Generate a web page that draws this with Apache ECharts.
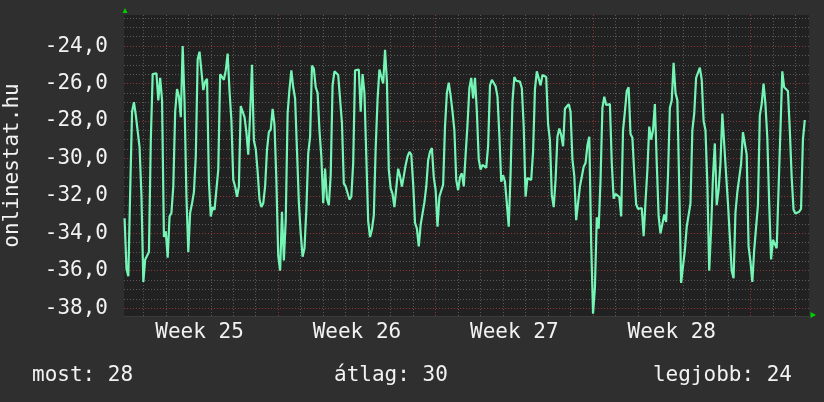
<!DOCTYPE html>
<html>
<head>
<meta charset="utf-8">
<script src="https://cdn.jsdelivr.net/npm/echarts@6/dist/echarts.min.js"></script>
<style>
  html, body { margin: 0; padding: 0; background: #2f2f2f; }
  #chart { width: 824px; height: 402px; }
</style>
</head>
<body>
<div id="chart"></div>
<script>
// hours counted from the start of week 25, one reading every 2 hours
const startHour = 4
const stepHours = 2
const values = [
  -33.2, -35.9, -36.3, -31.7, -27.5, -27.0, -27.7, -27.6, -29.4, -32.0,
  -36.6, -35.4, -35.2, -35.0, -29.0, -25.5, -25.4, -25.45, -26.9, -25.7,
  -26.9, -34.2, -33.9, -35.3, -33.1, -32.9, -31.5, -27.5, -26.3, -26.7,
  -27.8, -24.0, -27.0, -32.0, -35.0, -32.9, -32.4, -31.8, -29.9, -24.7,
  -24.3, -24.3, -26.35, -25.9, -25.75, -31.2, -33.1, -32.6, -32.75, -32.75,
  -30.6, -25.5, -25.4, -25.8, -25.3, -24.4, -26.4, -27.95, -31.15, -31.5,
  -32.05, -31.5, -27.2, -27.1, -27.8, -28.6, -29.8, -27.6, -25.0, -29.05,
  -29.5, -30.7, -32.2, -32.6, -32.4, -31.5, -29.55, -28.6, -28.45, -27.35,
  -28.2, -31.15, -35.2, -36.0, -32.85, -35.45, -33.3, -27.6, -26.3, -25.3,
  -26.2, -26.8, -29.55, -32.35, -34.0, -35.25, -34.8, -32.75, -29.75, -28.85,
  -25.05, -25.2, -26.2, -26.5, -28.5, -29.9, -32.4, -30.55, -32.15, -32.5,
  -30.9, -26.1, -25.35, -25.3, -25.55, -25.55, -28.1, -31.35, -31.5, -31.45,
  -32.2, -32.05, -30.25, -25.3, -25.2, -25.25, -27.5, -25.5, -26.5, -29.9,
  -33.35, -34.2, -33.8, -33.05, -29.45, -26.85, -25.25, -25.2, -26.0, -24.2,
  -25.9, -30.6, -31.6, -31.9, -32.6, -32.65, -30.55, -30.95, -31.5, -30.95,
  -30.35, -29.9, -29.65, -29.8, -31.35, -33.45, -33.75, -34.7, -33.55, -33.65,
  -32.35, -31.5, -30.1, -29.65, -29.45, -31.0, -31.7, -33.65, -32.05, -32.05,
  -31.4, -28.3, -26.5, -25.95, -26.65, -27.5, -28.5, -31.15, -31.7, -31.0,
  -30.8, -31.5, -29.8, -28.2, -26.25, -25.7, -26.8, -25.7, -27.5, -30.05,
  -30.6, -30.35, -30.4, -30.5, -29.35, -26.1, -25.8, -25.7, -26.15, -26.7,
  -28.75, -31.25, -30.9, -31.25, -32.4, -33.65, -30.8, -26.95, -25.65, -25.85,
  -25.85, -25.9, -26.25, -28.3, -32.05, -31.05, -31.05, -31.15, -29.65, -26.3,
  -25.35, -25.3, -26.1, -25.55, -25.45, -25.65, -28.15, -29.05, -31.95, -32.6,
  -31.15, -28.85, -28.4, -28.75, -29.35, -27.35, -27.35, -27.1, -27.5, -30.05,
  -30.95, -33.3, -33.4, -31.5, -31.5, -30.45, -30.25, -29.3, -28.85, -34.5,
  -38.3, -36.9, -33.15, -33.75, -31.15, -27.3, -26.7, -27.15, -27.15, -27.1,
  -30.25, -32.15, -31.9, -31.95, -32.05, -33.1, -28.5, -27.5, -26.4, -26.2,
  -28.7, -28.9, -30.8, -32.45, -32.7, -32.7, -32.65, -34.15, -32.3, -30.6,
  -28.3, -29.0, -28.5, -27.1, -30.25, -33.1, -34.0, -34.0, -33.0, -33.4,
  -30.9, -27.3, -26.9, -24.9, -26.5, -26.9, -31.5, -36.65, -36.6, -34.9,
  -33.65, -33.65, -32.4, -28.5, -27.6, -25.7, -25.75, -25.15, -25.8, -28.0,
  -28.5, -31.35, -36.0, -33.8, -31.0, -29.2, -32.5, -31.7, -30.25, -27.6,
  -27.7, -30.85, -32.4, -34.2, -36.0, -36.4, -32.9, -31.8, -31.7, -30.3,
  -28.6, -28.5, -29.8, -34.7, -35.5, -36.6, -34.9, -34.8, -32.5, -27.7,
  -27.1, -26.0, -27.1, -28.9, -32.35, -35.4, -34.35, -34.35, -34.8, -34.9,
  -28.5, -25.35, -26.2, -26.2, -26.4, -28.45, -31.0, -32.75, -32.95, -32.95,
  -32.85, -32.7, -29.0, -27.95
]

const weekNames = ['Week 25', 'Week 26', 'Week 27', 'Week 28']
const weekCenters = [84, 252, 420, 588]
const weekStarts = [168, 336, 504, 672]
const dayStarts = [24, 48, 72, 96, 120, 144, 168, 192, 216, 240, 264, 288, 312, 336, 360,
  384, 408, 432, 456, 480, 504, 528, 552, 576, 600, 624, 648, 672, 696, 720]
const yLabels = [-38, -36, -34, -32, -30, -28, -26, -24]
const yMinor = [-38, -37.5, -37, -36.5, -36, -35.5, -35, -34.5, -34, -33.5, -33, -32.5,
  -32, -31.5, -31, -30.5, -30, -29.5, -29, -28.5, -28, -27.5, -27, -26.5, -26, -25.5,
  -25, -24.5, -24, -23.5, -23, -22.5]
const legendTexts = ['most: 28', 'átlag: 30', 'legjobb: 24']

const chart = echarts.init(document.getElementById('chart'))

const font = 'DejaVu Sans Mono'
const gray = '#585858'
const red = '#8c3636'

const gridLines = []
yMinor.filter(v => !yLabels.includes(v)).forEach(v => {
  gridLines.push({ yAxis: v, lineStyle: { color: gray } })
})
dayStarts.filter(v => !weekStarts.includes(v)).forEach(v => {
  gridLines.push({ xAxis: v, lineStyle: { color: gray } })
})
yLabels.forEach(v => gridLines.push({ yAxis: v, lineStyle: { color: red } }))
weekStarts.forEach(v => gridLines.push({ xAxis: v, lineStyle: { color: red } }))

const option = {
  backgroundColor: '#2f2f2f',
  animation: false,
  grid: {
    left: 124,
    right: 15,
    top: 15,
    bottom: 86,
    outerBoundsMode: 'none',
    containLabel: false,
    show: true,
    backgroundColor: '#212121',
    borderWidth: 0
  },
  xAxis: {
    type: 'value',
    min: 3.38,
    max: 734.5,
    axisLine: { show: true, lineStyle: { color: '#3a3a3a' } },
    axisTick: { show: false },
    splitLine: { show: false },
    axisLabel: {
      customValues: weekCenters,
      color: '#f2f2f2',
      fontFamily: font,
      fontSize: 21,
      margin: 6,
      formatter: v => weekNames[weekCenters.indexOf(v)] || ''
    }
  },
  yAxis: {
    type: 'value',
    min: -38.42,
    max: -22.34,
    name: 'onlinestat.hu',
    nameLocation: 'middle',
    nameRotate: 90,
    nameGap: 101,
    nameTextStyle: { color: '#f2f2f2', fontFamily: font, fontSize: 21 },
    axisLine: { show: false },
    axisTick: { show: false },
    splitLine: { show: false },
    axisLabel: {
      customValues: yLabels,
      color: '#f2f2f2',
      fontFamily: font,
      fontSize: 21,
      margin: 16,
      formatter: v => v.toFixed(1).replace('.', ',')
    }
  },
  graphic: [
    { type: 'polygon', shape: { points: [[122.5, 13], [127.5, 13], [125, 8]] }, style: { fill: '#00d000' } },
    { type: 'polygon', shape: { points: [[810.5, 312], [810.5, 318], [816, 315]] }, style: { fill: '#00d000' } },
    { type: 'text', left: 32, top: 365, style: { text: legendTexts[0], fill: '#f2f2f2', font: '21px "DejaVu Sans Mono"' } },
    { type: 'text', left: 334, top: 365, style: { text: legendTexts[1], fill: '#f2f2f2', font: '21px "DejaVu Sans Mono"' } },
    { type: 'text', right: 32, top: 365, style: { text: legendTexts[2], fill: '#f2f2f2', font: '21px "DejaVu Sans Mono"' } }
  ],
  series: [
    {
      type: 'line',
      data: values.map((v, i) => [startHour + i * stepHours, v]),
      showSymbol: false,
      z: 3,
      lineStyle: { color: '#74f5b5', width: 2.2 },
      markLine: {
        silent: true,
        z: 1,
        symbol: 'none',
        label: { show: false },
        lineStyle: { type: [1, 2], width: 1 },
        data: gridLines
      }
    }
  ]
}

chart.setOption(option)
</script>
</body>
</html>
